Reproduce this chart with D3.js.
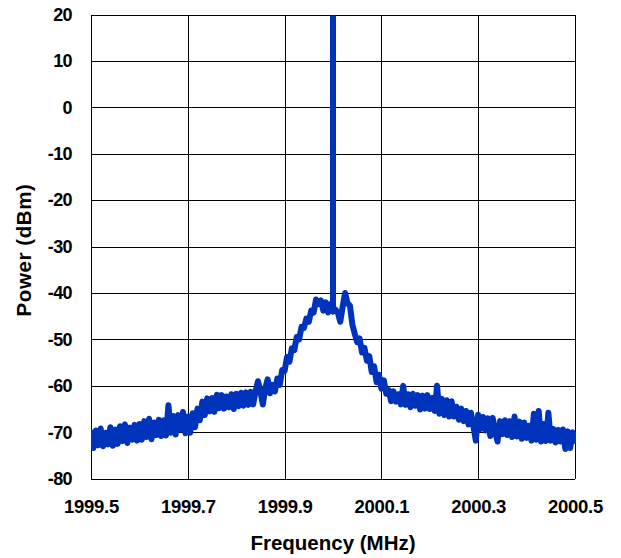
<!DOCTYPE html>
<html>
<head>
<meta charset="utf-8">
<script src="https://cdn.jsdelivr.net/npm/d3@7"></script>
<style>
  html, body { margin: 0; padding: 0; background: #fff; }
  svg { display: block; }
  text { font-family: "Liberation Sans", Arial, sans-serif; font-weight: bold; fill: #000; }
</style>
</head>
<body>
<svg id="chart" width="621" height="558"></svg>
<script>
// Spectrum sweep: 1999.5 – 2000.5 MHz sampled every 5 kHz
const freqStart = 1999.5;
const freqStep = 0.005;
const powerDbm = [
  -70.0, -73.4, -69.6, -72.8, -69.2, -73.0, -70.1, -72.6, -68.9, -72.9,
  -69.4, -72.5, -68.7, -71.9, -68.3, -72.3, -69.0, -71.6, -68.4, -71.8,
  -68.2, -71.6, -67.6, -71.0, -67.1, -71.5, -67.9, -70.6, -67.3, -70.8,
  -67.4, -70.7, -64.2, -70.1, -66.5, -70.5, -66.3, -69.4, -65.6, -70.2,
  -66.6, -70.1, -65.9, -68.9, -64.9, -67.4, -63.4, -66.3, -62.7, -65.5,
  -62.6, -65.6, -61.9, -64.8, -62.0, -64.9, -62.3, -64.6, -61.8, -65.0,
  -61.7, -64.4, -61.5, -64.3, -61.4, -64.1, -61.3, -64.0, -61.2, -59.0,
  -61.2, -64.0, -60.6, -58.6, -61.6, -59.8, -61.2, -58.4, -59.8, -56.6,
  -56.8, -53.8, -54.8, -51.9, -52.3, -49.5, -50.0, -47.3, -47.5, -45.5,
  -46.2, -43.8, -44.2, -41.4, -42.4, -41.6, -43.8, -42.0, -44.2, -42.4,
  -44.0, -43.6, -44.2, -46.2, -42.9, -40.0, -42.2, -42.7, -46.8, -48.8,
  -50.6, -49.8, -52.8, -51.8, -54.6, -53.6, -57.0, -55.8, -59.2, -57.6,
  -60.6, -58.8, -61.7, -60.9, -63.3, -61.2, -63.4, -61.8, -64.0, -60.0,
  -64.1, -61.8, -64.6, -61.7, -64.3, -62.0, -65.1, -62.1, -64.9, -62.0,
  -65.0, -62.6, -65.4, -60.0, -66.0, -62.8, -66.3, -63.1, -66.6, -63.3,
  -66.6, -64.5, -67.3, -64.9, -67.6, -65.4, -68.3, -65.8, -68.6, -71.8,
  -66.2, -69.3, -66.7, -69.6, -67.0, -70.8, -66.9, -70.0, -72.0, -67.6,
  -70.4, -67.4, -70.6, -67.6, -71.0, -66.6, -70.9, -67.7, -71.4, -67.9,
  -71.2, -68.6, -71.8, -66.0, -71.6, -65.4, -72.0, -68.2, -71.9, -65.8,
  -71.8, -69.3, -72.2, -69.5, -72.0, -69.4, -73.6, -69.8, -73.4, -70.0,
  -71.8
];

// Carrier line at the centre frequency (runs off the top of the scale)
const carrierFreq = 2000.0;
const carrierPeak = 22;
const carrierIndex = 100;

const xGrid = [1999.5, 1999.7, 1999.9, 2000.1, 2000.3, 2000.5];
const xTickLabels = ["1999.5", "1999.7", "1999.9", "2000.1", "2000.3", "2000.5"];
const yTicks = [20, 10, 0, -10, -20, -30, -40, -50, -60, -70, -80];

const margin = { left: 91, right: 575, top: 14.5, bottom: 478.7 };

const svg = d3.select("#chart");
const x = d3.scaleLinear().domain([1999.5, 2000.5]).range([margin.left, margin.right]);
const y = d3.scaleLinear().domain([-80, 20]).range([margin.bottom, margin.top]);

// Build the trace, inserting the carrier as a vertical stroke
const points = [];
powerDbm.forEach((p, i) => {
  const f = freqStart + i * freqStep;
  if (i === carrierIndex) {
    points.push([carrierFreq, p]);
    points.push([carrierFreq, carrierPeak]);
    points.push([carrierFreq, p]);
  } else {
    points.push([f, p]);
  }
});

// Grid
const grid = svg.append("g").attr("stroke", "#000").attr("stroke-width", 1.2).attr("shape-rendering", "crispEdges");
grid.selectAll("line.v").data(xGrid).join("line")
  .attr("class", "v")
  .attr("x1", d => Math.round(x(d)) + 0.5).attr("x2", d => Math.round(x(d)) + 0.5)
  .attr("y1", margin.top).attr("y2", margin.bottom);
grid.selectAll("line.h").data(yTicks).join("line")
  .attr("class", "h")
  .attr("y1", d => Math.round(y(d)) + 0.5).attr("y2", d => Math.round(y(d)) + 0.5)
  .attr("x1", margin.left).attr("x2", margin.right);

// Clip to the plot frame
svg.append("clipPath").attr("id", "plotClip").append("rect")
  .attr("x", margin.left).attr("y", Math.round(margin.top) + 0.5)
  .attr("width", margin.right - margin.left + 1)
  .attr("height", margin.bottom - margin.top);

const line = d3.line().x(d => x(d[0])).y(d => y(d[1]));
svg.append("path")
  .datum(points)
  .attr("clip-path", "url(#plotClip)")
  .attr("fill", "none")
  .attr("stroke", "#0033bb")
  .attr("stroke-width", 6)
  .attr("stroke-linejoin", "round")
  .attr("stroke-linecap", "round")
  .attr("d", line);

// Y axis labels
const yAxis = svg.append("g")
  .attr("transform", `translate(${margin.left},0)`)
  .call(d3.axisLeft(y).tickValues(yTicks).tickSize(0).tickPadding(19).tickFormat(d => String(d)));
yAxis.select(".domain").remove();
yAxis.selectAll("text")
  .style("font-family", '"Liberation Sans", Arial, sans-serif')
  .style("font-weight", "bold")
  .style("font-size", "18px")
  .style("letter-spacing", "-0.6px")
  .attr("fill", "#000");

// X axis labels
const xAxis = svg.append("g")
  .attr("transform", `translate(0,${margin.bottom})`)
  .call(d3.axisBottom(x).tickValues(xTickLabels.map(Number)).tickSize(0).tickPadding(21)
    .tickFormat((d, i) => xTickLabels[i]));
xAxis.select(".domain").remove();
xAxis.selectAll("text")
  .style("font-family", '"Liberation Sans", Arial, sans-serif')
  .style("font-weight", "bold")
  .style("font-size", "18.5px")
  .style("letter-spacing", "-0.3px")
  .attr("fill", "#000");

// Axis titles
svg.append("text")
  .attr("x", (margin.left + margin.right) / 2)
  .attr("y", 550)
  .attr("text-anchor", "middle")
  .style("font-size", "20.5px")
  .text("Frequency (MHz)");

svg.append("text")
  .attr("transform", "translate(31,250) rotate(-90)")
  .attr("text-anchor", "middle")
  .style("font-size", "20.5px")
  .style("letter-spacing", "0.6px")
  .text("Power (dBm)");
</script>
</body>
</html>
